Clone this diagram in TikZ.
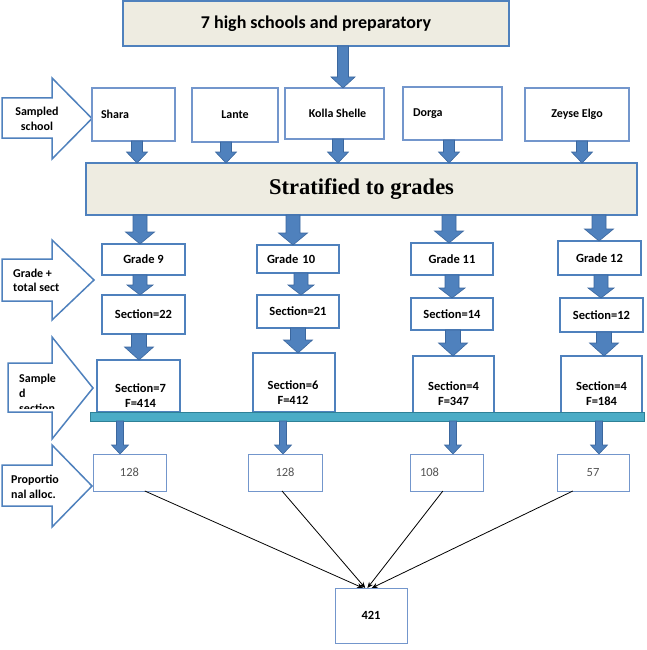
\documentclass[tikz,border=0pt]{standalone}
\usepackage{fontspec}
\setmainfont{Carlito}
\newfontfamily\serifbold{Liberation Serif}
\usetikzlibrary{calc,arrows.meta}
\definecolor{bblue}{HTML}{4F81BD}
\definecolor{bdark}{HTML}{3B679E}
\definecolor{beige}{HTML}{EEECE1}
\definecolor{lblue}{HTML}{7396CC}
\definecolor{tealf}{HTML}{4BACC6}
\definecolor{teald}{HTML}{2E8197}
\definecolor{graytxt}{HTML}{555555}
% block arrow: x, from node, to node, shaft half width, head half width, head length
\newcommand\blockarr[6]{%
  \draw[barr] let \p1=(#2.south), \p2=(#3.north) in
    (#1pt-#4pt,\y1) -- (#1pt+#4pt,\y1) -- (#1pt+#4pt,\y2+#6pt) -- (#1pt+#5pt,\y2+#6pt)
    -- (#1pt,\y2) -- (#1pt-#5pt,\y2+#6pt) -- (#1pt-#4pt,\y2+#6pt) -- cycle;}
% side arrow: xleft, body top, body bottom, head top, head bottom, tip x
\newcommand\sidearrow[6]{%
  \draw[side] (#1,#2) -- (52,#2) -- (52,#4) -- (#6,{(#4+#5)/2}) -- (52,#5) -- (52,#3) -- (#1,#3) -- cycle;}
\begin{document}
\begin{tikzpicture}[x=1pt,y=-1pt,
  hdr/.style={draw=bblue, fill=beige, line width=1.4pt, anchor=north west, inner sep=0pt, outer sep=0pt},
  school/.style={draw=lblue, fill=white, line width=1.1pt, anchor=north west, inner sep=0pt, outer sep=0pt, font=\fontsize{12}{14}\selectfont\bfseries},
  grade/.style={draw=bblue, fill=white, line width=2pt, anchor=north west, inner sep=0pt, outer sep=0pt, font=\fontsize{12.5}{15}\selectfont\bfseries},
  gtxt/.style={font=\fontsize{12.5}{15}\selectfont\bfseries, align=center, inner sep=0pt},
  alloc/.style={draw=lblue, fill=white, line width=1pt, anchor=north west, inner sep=0pt, outer sep=0pt, font=\fontsize{12.5}{15}\selectfont, text=graytxt},
  side/.style={draw=bblue, line width=1.5pt, fill=white, line join=miter},
  sidetxt/.style={font=\fontsize{12}{14.5}\selectfont\bfseries, inner sep=0pt},
  barr/.style={fill=bblue, draw=bdark, line width=0.6pt},
  conn/.style={-{Stealth[length=6pt,width=5pt]}, line width=0.8pt, black},
]
\useasboundingbox (0,0) rectangle (646,650);

% header boxes
\node[hdr, minimum width=386pt, minimum height=45pt, font=\fontsize{18}{21}\selectfont\bfseries, text depth=2pt] (top) at (123,1) {7 high schools and preparatory};
\node[hdr, minimum width=551pt, minimum height=52pt, font=\serifbold\bfseries\fontsize{22.5}{27}\selectfont] (strat) at (86,163) {Stratified to grades};

% side arrows
\sidearrow{2}{98}{138}{78}{159}{92}
\node[sidetxt, align=center] (lblschool) at (37,119) {Sampled\\school};
\sidearrow{2}{259}{301}{240}{320}{94}
\node[sidetxt, align=left, anchor=west] (lblgrade) at (13,280.5) {Grade +\\total sect};
\sidearrow{8}{363}{412}{337}{439}{93}
\begin{scope}
  \clip (10,365) rectangle (90,408);
  \node[sidetxt, font=\fontsize{12}{15}\selectfont\bfseries, align=left, anchor=west] (lblsect) at (19,393.5) {Sample\\d\\section};
\end{scope}
\sidearrow{2}{465}{506}{445}{527}{92}
\node[sidetxt, align=left, anchor=west] (lblprop) at (11,487) {Proportio\\nal alloc.};

% schools
\node[school, minimum width=83pt, minimum height=53pt, inner xsep=9pt, text width=65pt, align=left] (shara) at (92,88) {Shara};
\node[school, minimum width=86pt, minimum height=54pt] (lante) at (192,88) {Lante};
\node[school, minimum width=99pt, minimum height=51pt] (kolla) at (285,88) {\hspace*{6pt}Kolla Shelle};
\node[school, minimum width=99pt, minimum height=53pt, inner xsep=10pt, text width=79pt, align=left] (dorga) at (403,87) {Dorga};
\node[school, minimum width=104pt, minimum height=53pt] (zeyse) at (525,88) {Zeyse Elgo};

% grades
\node[grade, minimum width=83pt, minimum height=31pt] (g9) at (102,244) {Grade 9};
\node[grade, minimum width=82pt, minimum height=28pt, inner xsep=10pt, text width=62pt, align=left] (g10) at (257,245) {Grade 10};
\node[grade, minimum width=82pt, minimum height=32pt] (g11) at (411,243) {Grade 11};
\node[grade, minimum width=83pt, minimum height=34pt] (g12) at (558,241) {Grade 12};

% sections
\node[grade, minimum width=83pt, minimum height=39pt] (s22) at (102,295) {Section=22};
\node[grade, minimum width=82pt, minimum height=33pt] (s21) at (257,295) {Section=21};
\node[grade, minimum width=82pt, minimum height=32pt] (s14) at (411,298) {Section=14};
\node[grade, minimum width=83pt, minimum height=34pt] (s12) at (560,298) {Section=12};

% sampled sections
\node[grade, minimum width=83pt, minimum height=52pt] (p7) at (97,360) {};
\node[grade, minimum width=82pt, minimum height=59pt] (p6) at (253,353) {};
\node[grade, minimum width=81pt, minimum height=59pt] (p4a) at (413,356) {};
\node[grade, minimum width=81pt, minimum height=59pt] (p4b) at (561,356) {};
\node[gtxt] (p7t) at ($(p7.center)+(2,9.5)$) {Section=7\\F=414};
\node[gtxt] (p6t) at ($(p6.center)+(-1,10)$) {Section=6\\F=412};
\node[gtxt] (p4at) at ($(p4a.center)+(0,8)$) {Section=4\\F=347};
\node[gtxt] (p4bt) at ($(p4b.center)+(0,8)$) {Section=4\\F=184};

% bar
\node[draw=teald, fill=tealf, line width=1pt, anchor=north west, minimum width=554pt, minimum height=9pt, inner sep=0pt, outer sep=0pt] (bar) at (90,412) {};

% allocation boxes
\node[alloc, minimum width=73pt, minimum height=37pt] (a1) at (93,454) {128};
\node[alloc, minimum width=74pt, minimum height=37pt] (a2) at (248,454) {128};
\node[alloc, minimum width=73pt, minimum height=37pt, inner xsep=10pt, text width=53pt, align=left] (a3) at (410,454) {108};
\node[alloc, minimum width=72pt, minimum height=37pt] (a4) at (557,454) {57};
\node[alloc, text=black, font=\fontsize{12.5}{15}\selectfont\bfseries, minimum width=72pt, minimum height=55pt] (total) at (335,588) {421};

% block arrows
\blockarr{343}{top}{kolla}{5.5}{12}{11}
\blockarr{137}{shara}{strat}{5.5}{10.5}{11}
\blockarr{226}{lante}{strat}{5.5}{10.5}{11}
\blockarr{338}{kolla}{strat}{5.5}{10.5}{11}
\blockarr{449}{dorga}{strat}{5.5}{10.5}{11}
\blockarr{582}{zeyse}{strat}{5.5}{10.5}{11}
\blockarr{140}{strat}{g9}{7}{14.5}{12}
\blockarr{293}{strat}{g10}{7}{14.5}{12}
\blockarr{449}{strat}{g11}{7}{14.5}{12}
\blockarr{599}{strat}{g12}{7}{14.5}{12}
\blockarr{140}{g9}{s22}{7}{13}{10}
\blockarr{301}{g10}{s21}{7}{13}{10}
\blockarr{452}{g11}{s14}{7}{13}{10}
\blockarr{601}{g12}{s12}{7}{13}{10}
\blockarr{139}{s22}{p7}{7.5}{14.5}{13}
\blockarr{298}{s21}{p6}{7.5}{14.5}{13}
\blockarr{453}{s14}{p4a}{7.5}{14.5}{13}
\blockarr{604}{s12}{p4b}{7.5}{14.5}{13}
\blockarr{120}{bar}{a1}{3.5}{8.5}{9}
\blockarr{283}{bar}{a2}{3.5}{8.5}{9}
\blockarr{453}{bar}{a3}{3.5}{8.5}{9}
\blockarr{599}{bar}{a4}{3.5}{8.5}{9}

% connectors to total
\coordinate (o1) at ($(a1.south west)!0.71!(a1.south east)$);
\coordinate (o2) at ($(a2.south west)!0.46!(a2.south east)$);
\coordinate (o3) at ($(a3.south west)!0.45!(a3.south east)$);
\coordinate (o4) at ($(a4.south west)!0.22!(a4.south east)$);
\coordinate (t1) at ($(total.north west)!0.39!(total.north east)$);
\coordinate (t2) at ($(total.north west)!0.42!(total.north east)$);
\coordinate (t3) at ($(total.north west)!0.45!(total.north east)$);
\coordinate (t4) at ($(total.north west)!0.51!(total.north east)$);
\draw[conn] (o1) -- (t1);
\draw[conn] (o2) -- (t2);
\draw[conn] (o3) -- (t3);
\draw[conn] (o4) -- (t4);
\end{tikzpicture}
\end{document}
